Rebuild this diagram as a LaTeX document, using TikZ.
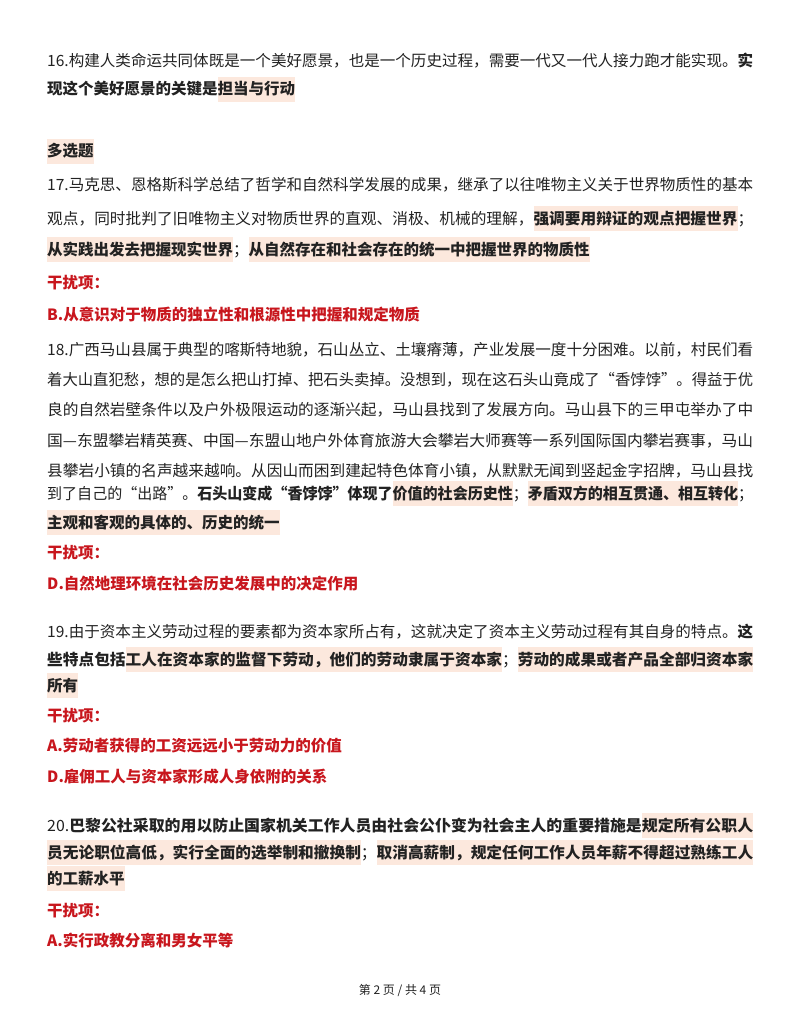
\documentclass[tikz,border=0pt]{standalone}
\usepackage{fontspec}
\usepackage{graphicx}
\setmainfont{Noto Sans CJK SC}
\definecolor{hl}{HTML}{FCE8DD}
\definecolor{rd}{HTML}{C8161D}
\definecolor{tx}{HTML}{222222}
\newcommand{\hlb}[1]{{\setlength{\fboxsep}{0pt}\colorbox{hl}{\rule[-7pt]{0pt}{25pt}\bfseries #1}}}
\newcommand{\fl}[1]{\resizebox{706pt}{\height}{#1}}
\begin{document}
\begin{tikzpicture}[x=1pt,y=1pt,
  ln/.style={anchor=base west,inner sep=0pt,font=\fontsize{15.5}{18}\selectfont,text=tx},
  rl/.style={ln,text=rd,font=\fontsize{15.5}{18}\selectfont\bfseries}]
\useasboundingbox (0,0) rectangle (800,-1035);
\fill[white] (0,0) rectangle (800,-1035);
\node[ln] (a1) at (47,-67) {\fl{16.构建人类命运共同体既是一个美好愿景，也是一个历史过程，需要一代又一代人接力跑才能实现。\textbf{实}}};
\node[ln] (a2) at (47,-95) {\textbf{现这个美好愿景的关键是}\hlb{担当与行动}};
\node[ln] (mc) at (47,-157) {\hlb{多选题}};
\node[ln] (b1) at (47,-191) {\fl{17.马克思、恩格斯科学总结了哲学和自然科学发展的成果，继承了以往唯物主义关于世界物质性的基本}};
\node[ln] (b2) at (47,-224) {\fl{观点，同时批判了旧唯物主义对物质世界的直观、消极、机械的理解，\hlb{强调要用辩证的观点把握世界}；}};
\node[ln] (b3) at (47,-255) {\hlb{从实践出发去把握现实世界}；\hlb{从自然存在和社会存在的统一中把握世界的物质性}};
\node[rl] (b4) at (47,-288) {干扰项：};
\node[rl] (b5) at (47,-320) {B.从意识对于物质的独立性和根源性中把握和规定物质};
\node[ln] (c1) at (47,-355) {\fl{18.广西马山县属于典型的喀斯特地貌，石山丛立、土壤瘠薄，产业发展一度十分困难。以前，村民们看}};
\node[ln] (c2) at (47,-385) {\fl{着大山直犯愁，想的是怎么把山打掉、把石头卖掉。没想到，现在这石头山竟成了“香饽饽”。得益于优}};
\node[ln] (c3) at (47,-415) {\fl{良的自然岩壁条件以及户外极限运动的逐渐兴起，马山县找到了发展方向。马山县下的三甲屯举办了中}};
\node[ln] (c4) at (47,-446) {\fl{国—东盟攀岩精英赛、中国—东盟山地户外体育旅游大会攀岩大师赛等一系列国际国内攀岩赛事，马山}};
\node[ln] (c5) at (47,-476) {\fl{县攀岩小镇的名声越来越响。从因山而困到建起特色体育小镇，从默默无闻到竖起金字招牌，马山县找}};
\node[ln] (c6) at (47,-499) {\fl{到了自己的“出路”。\textbf{石头山变成“香饽饽”体现了}\hlb{价值的社会历史性}；\hlb{矛盾双方的相互贯通、相互转化}；}};
\node[ln] (c7) at (47,-528) {\hlb{主观和客观的具体的、历史的统一}};
\node[rl] (c8) at (47,-558) {干扰项：};
\node[rl] (c9) at (47,-589) {D.自然地理环境在社会历史发展中的决定作用};
\node[ln] (d1) at (47,-637) {\fl{19.由于资本主义劳动过程的要素都为资本家所占有，这就决定了资本主义劳动过程有其自身的特点。\textbf{这}}};
\node[ln] (d2) at (47,-665) {\fl{\textbf{些特点包括}\hlb{工人在资本家的监督下劳动，他们的劳动隶属于资本家}；\hlb{劳动的成果或者产品全部归资本家}}};
\node[ln] (d3) at (47,-691) {\hlb{所有}};
\node[rl] (d4) at (47,-721) {干扰项：};
\node[rl] (d5) at (47,-751) {A.劳动者获得的工资远远小于劳动力的价值};
\node[rl] (d6) at (47,-782) {D.雇佣工人与资本家形成人身依附的关系};
\node[ln] (e1) at (47,-831) {\fl{20.\textbf{巴黎公社采取的用以防止国家机关工作人员由社会公仆变为社会主人的重要措施是}\hlb{规定所有公职人}}};
\node[ln] (e2) at (47,-858) {\fl{\hlb{员无论职位高低，实行全面的选举制和撤换制}；\hlb{取消高薪制，规定任何工作人员年薪不得超过熟练工人}}};
\node[ln] (e3) at (47,-884) {\hlb{的工薪水平}};
\node[rl] (e4) at (47,-916) {干扰项：};
\node[rl] (e5) at (47,-946) {A.实行政教分离和男女平等};
\node[anchor=base,inner sep=0pt,font=\fontsize{12}{14}\selectfont,text=tx] (ft) at (400,-994) {第 2 页 / 共 4 页};
\end{tikzpicture}
\end{document}
